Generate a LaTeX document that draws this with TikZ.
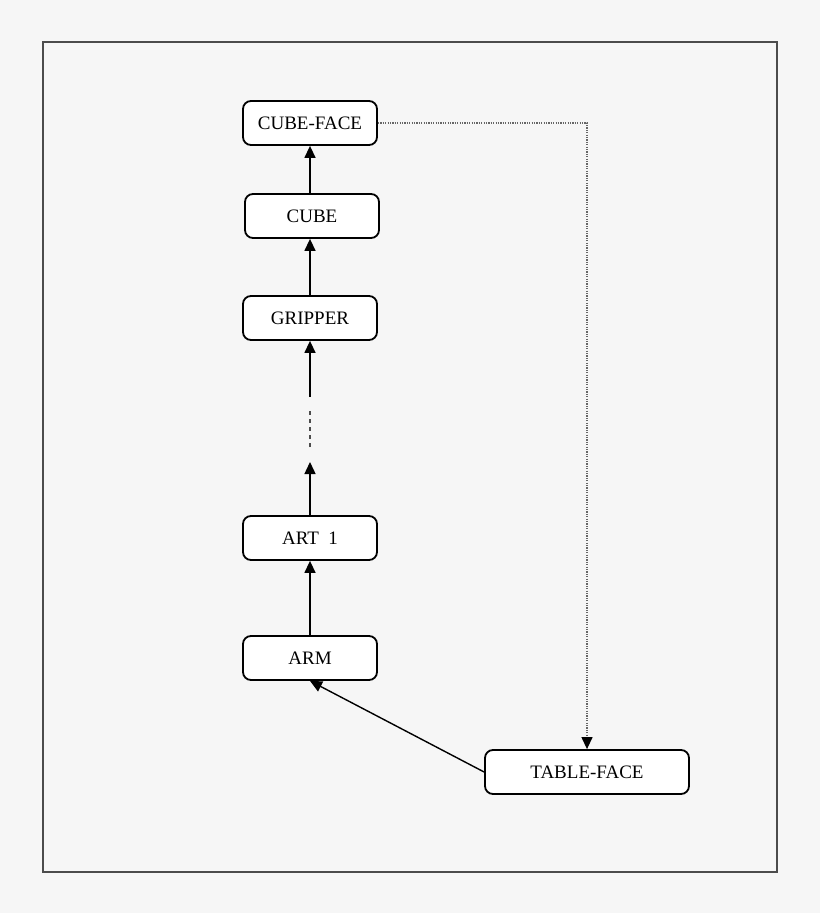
\documentclass[tikz,border=0pt]{standalone}
\usepackage{fontspec}
\setmainfont{Liberation Serif}
\usetikzlibrary{arrows.meta}

\begin{document}
\begin{tikzpicture}[x=0.5pt,y=-0.5pt,
    box/.style={draw,line width=0.9pt,rounded corners=4pt,fill=white,
      minimum width=67pt,minimum height=22pt,inner sep=0pt,
      font=\fontsize{9.5}{11}\selectfont},
    link/.style={line width=0.7pt,-{Triangle[length=6pt,width=5.5pt]}}]
    \useasboundingbox[fill={rgb,255:red,246;green,246;blue,246}] (0,0) rectangle (820,913);
    \draw[line width=0.6pt,black!70] (43,42) rectangle (777,872);
    % the chain of frames
    \node[box] (cubeface) at (310,123) {CUBE-FACE};
    \node[box] (cube) at (312,216) {CUBE};
    \node[box] (gripper) at (310,318) {GRIPPER};
    \node[box] (art) at (310,538) {ART\ \ 1};
    \node[box] (arm) at (310,658) {ARM};
    \node[box,minimum width=102pt] (tableface) at (587,772) {TABLE-FACE};
    \coordinate (tipa) at (310,462);
    \coordinate (dasha) at (310,447);
    \coordinate (dashb) at (310,409);
    \coordinate (tipb) at (310,397);
    \draw[link] (arm.north) -- (art.south);
    \draw[link] (art.north) -- (tipa);
    \draw[line width=0.6pt,dash pattern=on 2pt off 2pt,black!70] (dasha) -- (dashb);
    \draw[link] (tipb) -- (gripper.south);
    \draw[link] (gripper.north) -- (gripper.north |- cube.south);
    \draw[link] (gripper.north |- cube.north) -- (cubeface.south);
    \draw[line width=0.6pt,black!60,dash pattern=on 0.6pt off 0.6pt,
      -{Triangle[length=6pt,width=5.5pt,color=black]}] (cubeface.east) -| (tableface.north);
    \draw[link] (tableface.west) -- (arm.south);
\end{tikzpicture}
\end{document}
